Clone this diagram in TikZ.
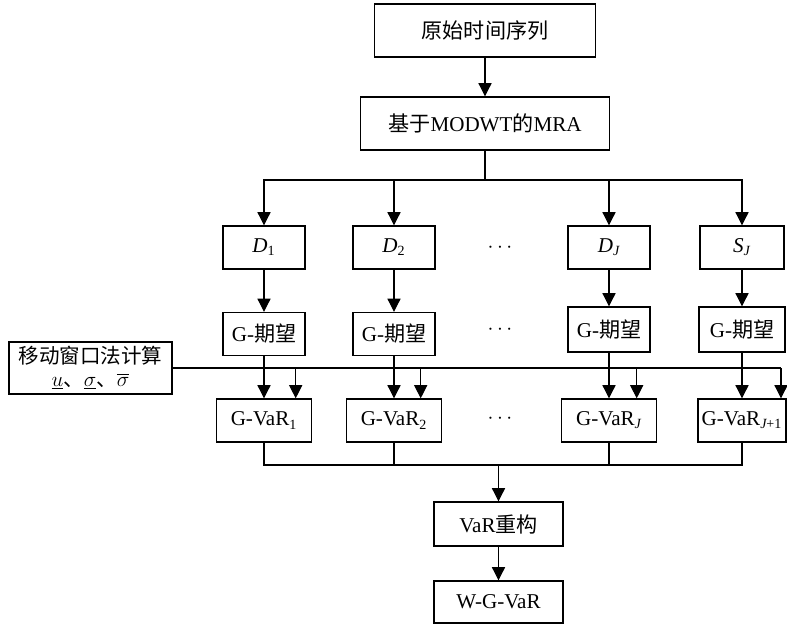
\documentclass[tikz,border=0pt]{standalone}
\usepackage{fontspec}
\setmainfont{Liberation Serif}
\newfontfamily\cjk{Noto Sans CJK SC}
\usepackage{tikz}
\usetikzlibrary{arrows.meta}
\usetikzlibrary{positioning}

\begin{document}
\begin{tikzpicture}[
        x=0.02cm, y=-0.02cm,
        box/.style={draw, line width=0.8pt, inner sep=1pt, align=center,
          font=\fontsize{12}{15}\selectfont},
        topbox/.style={box, minimum width=221*0.02cm, minimum height=53*0.02cm},
        colbox/.style={box, minimum width=82*0.02cm, minimum height=43*0.02cm},
        varbox/.style={box, minimum width=95*0.02cm, minimum height=43*0.02cm},
        endbox/.style={box, minimum width=129*0.02cm, minimum height=43*0.02cm},
        arr/.style={line width=0.6pt, -{Triangle[length=7.5pt, width=7.5pt]}},
        conn/.style={line width=0.6pt},
        dots/.style={font=\fontsize{12}{15}\selectfont},
      ]
      \useasboundingbox (0,0) rectangle (787,625);

      % === Top: series and MRA ===
      \node[topbox] (series) at (485,30.5) {{\cjk 原始时间序列}};
      \node[topbox, minimum width=249*0.02cm] (mra) at (485,123.5)
        {{\cjk 基于}MODWT{\cjk 的}MRA};
      \draw[arr] (series) -- (mra);

      % === Decomposition ===
      \node[colbox] (d1) at (264,247.5) {\textit{D}\textsubscript{1}};
      \node[colbox] (d2) at (394,247.5) {\textit{D}\textsubscript{2}};
      \node[colbox] (dJ) at (609,247.5) {\textit{D}\textsubscript{\itshape J}};
      \node[colbox, minimum width=84*0.02cm] (sJ) at (742,247.5)
        {\textit{S}\textsubscript{\itshape J}};
      \node[dots] (dotsD) at (500,248) {$\cdots$};

      \coordinate (split) at (485,180);
      \draw[conn] (mra) -- (split);
      \draw[arr] (split) -| (d1);
      \draw[arr] (split) -| (d2);
      \draw[arr] (split) -| (dJ);
      \draw[arr] (split) -| (sJ);

      % === G-expectation ===
      \node[colbox] (g1) at (264,334) {G-{\cjk 期望}};
      \node[colbox] (g2) at (394,334) {G-{\cjk 期望}};
      \node[colbox, minimum height=45*0.02cm] (gJ) at (609,329.5) {G-{\cjk 期望}};
      \node[colbox, minimum width=86*0.02cm, minimum height=45*0.02cm] (gS)
        at (742,329.5) {G-{\cjk 期望}};
      \node[dots] (dotsG) at (500,330) {$\cdots$};

      \draw[arr] (d1) -- (g1);
      \draw[arr] (d2) -- (g2);
      \draw[arr] (dJ) -- (gJ);
      \draw[arr] (sJ) -- (gS);

      % === Moving window ===
      \node[box, minimum width=163*0.02cm, minimum height=52*0.02cm,
        font=\fontsize{11.7}{14}\selectfont] (win) at (90.5,368)
        {{\cjk 移动窗口法计算}\\[-1pt]
         $\underline{u}${\cjk 、}$\underline{\sigma}${\cjk 、}$\overline{\sigma}$};

      % === G-VaR ===
      \node[varbox] (v1) at (264,420.5) {G-VaR\textsubscript{1}};
      \node[varbox] (v2) at (394,420.5) {G-VaR\textsubscript{2}};
      \node[varbox] (vJ) at (609,420.5) {G-VaR\textsubscript{\itshape J}};
      \node[varbox, minimum width=88*0.02cm] (vS) at (742,420.5)
        {G-VaR\textsubscript{\itshape J\upshape +1}};
      \node[dots] (dotsV) at (500,419) {$\cdots$};

      \coordinate (wend) at (781,368);
      \draw[conn] (win.east) -- (wend);
      \coordinate (w1) at (295.7,368);
      \coordinate (w2) at (420.7,368);
      \coordinate (wJ) at (636.7,368);
      \coordinate (wS) at (wend);

      \draw[arr] (g1) -- (v1);
      \draw[arr] (g2) -- (v2);
      \draw[arr] (gJ) -- (vJ);
      \draw[arr] (gS) -- (vS);
      \draw[arr] (w1) -- (w1 |- v1.north);
      \draw[arr] (w2) -- (w2 |- v2.north);
      \draw[arr] (wJ) -- (wJ |- vJ.north);
      \draw[arr] (wS) -- (wS |- vS.north);

      % === Reconstruction ===
      \node[endbox, minimum height=44*0.02cm] (rec) at (498.5,524) {VaR{\cjk 重构}};
      \node[endbox, minimum height=42*0.02cm] (wgvar) at (498.5,602) {W-G-VaR};

      \coordinate (join) at (498.5,465);
      \draw[conn] (v1) |- (join);
      \draw[conn] (v2) |- (join);
      \draw[conn] (vJ) |- (join);
      \draw[conn] (vS) |- (join);
      \draw[arr] (join) -- (rec);
      \draw[arr] (rec) -- (wgvar);

      \end{tikzpicture}
\end{document}
